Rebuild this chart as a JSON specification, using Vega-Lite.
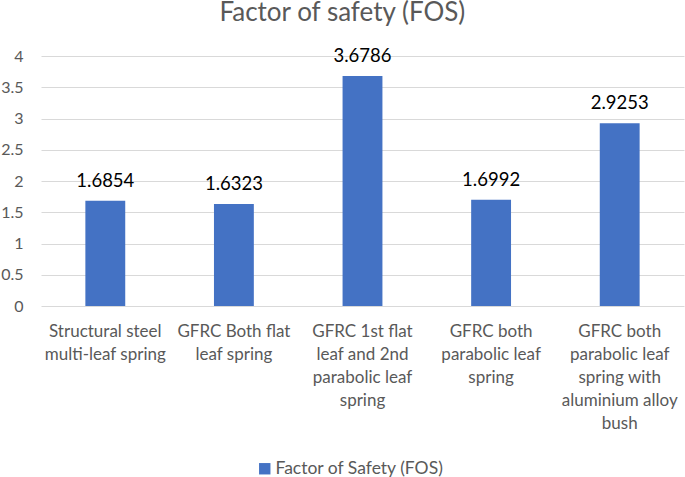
{
  "$schema": "https://vega.github.io/schema/vega-lite/v6.json",
  "width": 643,
  "height": 250,
  "autosize": {"type": "none"},
  "padding": {"left": 41, "top": 56, "right": 1, "bottom": 171},
  "background": "white",
  "config": {
    "view": {"stroke": null},
    "font": "Lato"
  },
  "title": {
    "text": "Factor of safety (FOS)",
    "font": "Lato",
    "fontSize": 26,
    "fontWeight": "normal",
    "color": "#595959",
    "anchor": "middle",
    "frame": "bounds",
    "offset": 21
  },
  "data": {
    "values": [
      {"spring": "Structural steel|multi-leaf spring", "fos": 1.6854, "series": "Factor of Safety (FOS)"},
      {"spring": "GFRC Both flat|leaf spring", "fos": 1.6323, "series": "Factor of Safety (FOS)"},
      {"spring": "GFRC 1st flat|leaf and 2nd|parabolic leaf|spring", "fos": 3.6786, "series": "Factor of Safety (FOS)"},
      {"spring": "GFRC both|parabolic leaf|spring", "fos": 1.6992, "series": "Factor of Safety (FOS)"},
      {"spring": "GFRC both|parabolic leaf|spring with|aluminium alloy|bush", "fos": 2.9253, "series": "Factor of Safety (FOS)"}
    ]
  },
  "encoding": {
    "x": {
      "field": "spring",
      "type": "nominal",
      "sort": null,
      "title": null,
      "scale": {"paddingInner": 0.69, "paddingOuter": 0.345},
      "axis": {
        "labelAngle": 0,
        "labelExpr": "split(datum.label, '|')",
        "labelFont": "Lato",
        "labelFontSize": 17,
        "labelColor": "#595959",
        "labelLineHeight": 23,
        "labelPadding": 17,
        "labelBaseline": "top",
        "ticks": false,
        "domain": false,
        "grid": false
      }
    },
    "y": {
      "field": "fos",
      "type": "quantitative",
      "title": null,
      "scale": {"domain": [0, 4]},
      "axis": {
        "values": [0, 0.5, 1, 1.5, 2, 2.5, 3, 3.5, 4],
        "format": ".1~f",
        "labelFont": "Lato",
        "labelFontSize": 16,
        "labelColor": "#595959",
        "labelPadding": 18,
        "ticks": false,
        "domain": false,
        "gridColor": "#d9d9d9",
        "gridWidth": 1.2
      }
    }
  },
  "layer": [
    {
      "mark": {"type": "bar", "color": "#4472c4"},
      "encoding": {
        "color": {
          "field": "series",
          "type": "nominal",
          "scale": {"range": ["#4472c4"]},
          "legend": {
            "title": null,
            "orient": "none",
            "legendX": 215,
            "legendY": 404,
            "symbolType": "square",
            "symbolSize": 130,
            "symbolStrokeWidth": 0,
            "labelFont": "Lato",
            "labelFontSize": 17.5,
            "labelColor": "#595959",
            "labelLimit": 400,
            "labelOffset": 2
          }
        }
      }
    },
    {
      "mark": {"type": "text", "dy": -14, "baseline": "alphabetic", "font": "Lato", "fontSize": 18.5, "color": "#000000"},
      "encoding": {
        "text": {"field": "fos", "type": "quantitative", "format": ".4f"}
      }
    }
  ]
}
